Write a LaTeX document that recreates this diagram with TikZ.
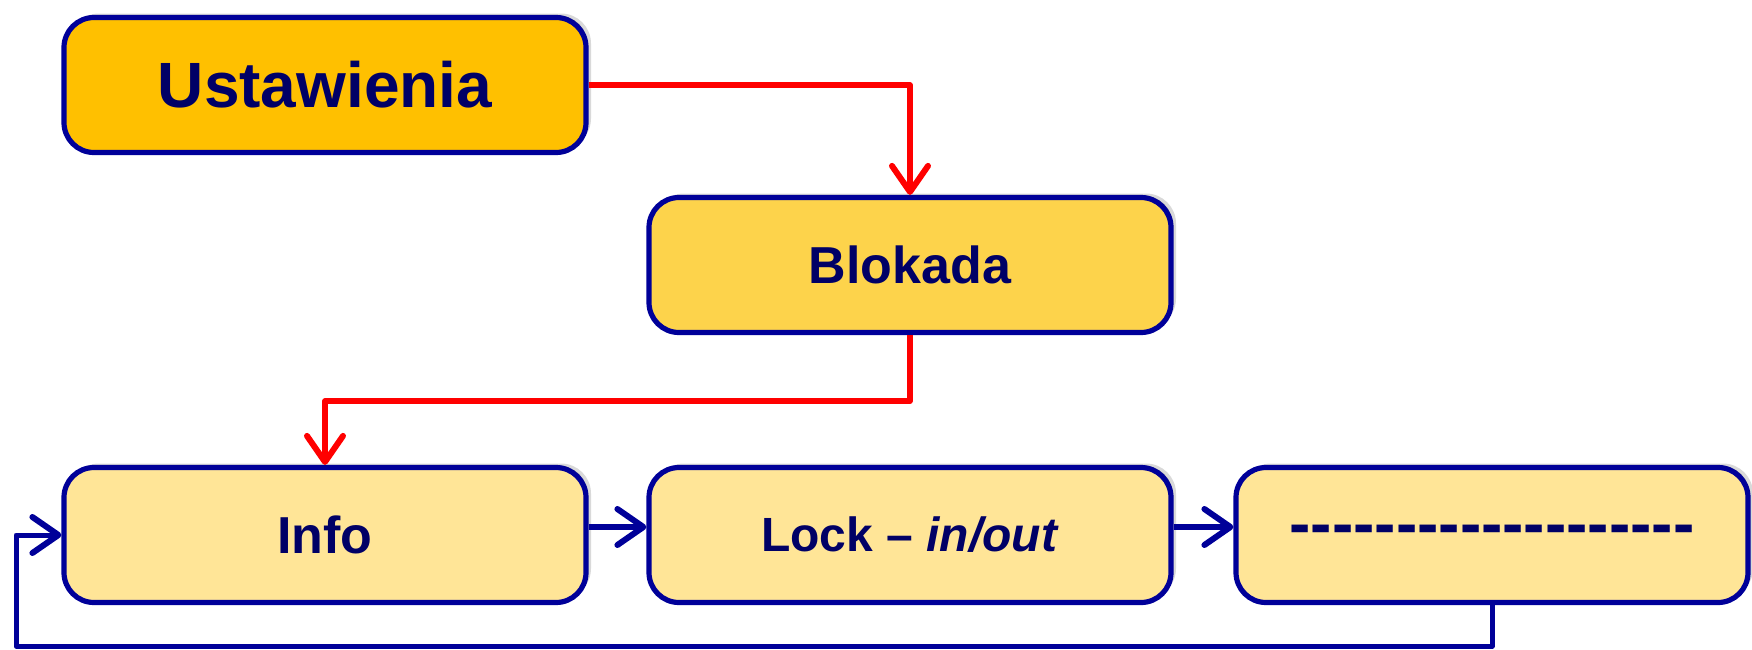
\documentclass[tikz,border=0pt]{standalone}
\usepackage{fontspec}
\setmainfont{Liberation Sans}
\usetikzlibrary{calc, arrows.meta, shadows, positioning}
\definecolor{ustfill}{HTML}{FFC000}
\definecolor{blokfill}{HTML}{FDD34B}
\definecolor{stepfill}{HTML}{FFE597}
\definecolor{frame}{HTML}{000099}
\definecolor{ink}{HTML}{000066}
\tikzset{>=latex}
\tikzset{
  box/.style={draw=frame, line width=2.6pt, rounded corners=15pt, text=ink, font=\bfseries,
    minimum width=261pt, minimum height=67.5pt, inner sep=0pt,
    drop shadow={shadow xshift=1pt, shadow yshift=1pt, fill=black, opacity=0.3},
    drop shadow={shadow xshift=2.5pt, shadow yshift=2pt, fill=black, opacity=0.15}},
  redline/.style={draw=red, line width=2.8pt, line join=round},
  blueline/.style={draw=frame, line width=3pt, line join=round},
  barb/.style={-{Straight Barb[length=13pt, width=18pt, line width=3pt, round]}},
}

\begin{document}
\begin{tikzpicture}[x=0.5pt, y=-0.5pt]
\useasboundingbox (0,0) rectangle (1752,649);

\node[box, fill=ustfill, font=\bfseries\fontsize{32}{38}\selectfont] (ust) at (325,85) {Ustawienia};
\node[box, fill=blokfill, font=\bfseries\fontsize{26}{31}\selectfont] (blok) at (910,265) {Blokada};
\node[box, fill=stepfill, font=\bfseries\fontsize{26}{31}\selectfont] (info) at (325,535) {Info};
\node[box, fill=stepfill, font=\bfseries\fontsize{24}{29}\selectfont] (lock) at (910,535) {Lock -- \textit{in/out}};
\node[box, fill=stepfill, minimum width=256pt, font=\bfseries\fontsize{32}{38}\selectfont] (dash) at (1492,535) {\foreach \k in {1,...,19}{-}};

\coordinate (loopL) at (16,646);

% red path
\draw[redline, barb] (ust.east) -| (blok.north);
\draw[redline, barb] (blok.south) -- ++(0,66) -| (info.north);

% blue path
\draw[blueline, barb] ([yshift=4pt]info.east) -- ([yshift=4pt]lock.west);
\draw[blueline, barb] ([yshift=4pt]lock.east) -- ([yshift=4pt]dash.west);
\draw[blueline, line width=2.5pt, barb] (dash.south) |- (loopL) |- (info.west);
\end{tikzpicture}
\end{document}
